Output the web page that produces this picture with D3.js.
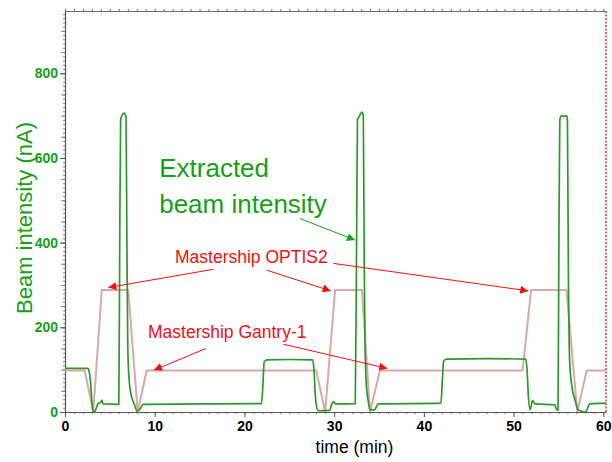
<!DOCTYPE html>
<html>
<head>
<meta charset="utf-8">
<script src="https://cdn.jsdelivr.net/npm/d3@7"></script>
<style>
  html, body { margin: 0; padding: 0; background: #ffffff; }
  svg { display: block; font-family: "Liberation Sans", Arial, sans-serif; }
</style>
</head>
<body>
<svg id="chart" width="612" height="462"></svg>
<script>
// ---- data ----
const beamTime = [0, 2.55, 2.7, 2.85, 3.0, 3.15, 3.35, 3.5, 3.7, 3.95, 4.1, 4.25, 6.0,
  6.1, 6.2, 6.35, 6.58, 6.8, 6.9, 7.0, 7.15, 7.4, 7.7, 8.05, 8.4, 8.7, 15, 21.9,
  22.05, 22.2, 22.5, 25, 27.6, 27.75, 27.9, 28.1, 28.3, 29.5, 29.75, 29.9, 30.2, 32.35,
  32.5, 32.6, 32.8, 33.1, 33.25, 33.35, 33.45, 33.6, 33.8, 34.0, 34.5, 34.9, 41.9,
  42.05, 42.2, 42.5, 47, 51.35, 51.5, 51.65, 51.85, 52.1, 52.4, 54.6, 54.8, 54.95,
  55.05, 55.15, 55.35, 55.6, 55.9, 56.0, 56.1, 56.25, 56.5, 56.85, 57.2, 58.0, 58.5, 60.3];
const beamValue = [103, 103, 95, 70, 25, 0, 2, 10, 20, 22, 28, 19, 18,
  400, 690, 700, 706, 697, 400, 150, 75, 38, 20, 2, 8, 18, 19, 20,
  60, 118, 123, 124, 123, 100, 40, 8, 3, 4, 20, 24, 19, 20,
  400, 690, 698, 708, 700, 350, 150, 60, 25, 5, 5, 19, 21,
  70, 120, 125, 126, 125, 100, 36, 5, 27, 19, 17, 5, 5,
  400, 690, 700, 698, 700, 690, 350, 120, 60, 28, 5, 0, 19, 21];

const masterTime = [0, 2.2, 3.15, 4.1, 7.05, 8.1, 9.1, 28.0, 29.0, 30.1, 33.1, 34.0, 35.1, 51.0, 51.95, 55.9, 57.1, 58.15, 60.3];
const masterValue = [98, 98, 0, 288, 288, 0, 98, 98, 0, 288, 288, 0, 98, 98, 288, 288, 0, 98, 98];

const xTicks = [0, 10, 20, 30, 40, 50, 60];
const yTicks = [0, 200, 400, 600, 800];

const xLabel = "time (min)";
const yLabel = "Beam intensity (nA)";

// annotation texts (data coordinates)
const labelTexts = ["Extracted", "beam intensity", "Mastership OPTIS2", "Mastership Gantry-1"];
const labelT = [10.5, 10.5, 12.26, 9.25];
const labelV = [556, 469, 351, 175];
const labelKind = ["beam", "beam", "master", "master"];

// arrows: from (t0,v0) to (t1,v1)
const arrowT0 = [26.19, 16.53, 22.48, 29.9, 15.72, 24.33];
const arrowV0 = [457, 337, 335, 351, 150, 160];
const arrowT1 = [32.32, 4.83, 29.61, 51.64, 9.92, 35.92];
const arrowV1 = [406, 294, 286, 286, 99, 103];
const arrowKind = ["beam", "master", "master", "master", "master", "master"];

// ---- drawing ----
const svg = d3.select("#chart");
const x = d3.scaleLinear().domain([0, 60.3]).range([65, 606]);
const y = d3.scaleLinear().domain([0, 947]).range([412, 11]);

const green = "#2b9a2b";
const textGreen = "#16a016";
const red = "#f01010";
const pink = "#d9a9a9";
const axisGray = "#707070";

svg.append("rect").attr("width", 612).attr("height", 462).attr("fill", "#ffffff");

// defs for arrows
const defs = svg.append("defs");
[["beam", textGreen], ["master", red]].forEach(([k, c]) => {
  defs.append("marker")
    .attr("id", "arrow-" + k)
    .attr("markerUnits", "userSpaceOnUse")
    .attr("viewBox", "0 0 10 10")
    .attr("refX", 10).attr("refY", 5)
    .attr("markerWidth", 11).attr("markerHeight", 8)
    .attr("orient", "auto")
    .append("path").attr("d", "M0,0 L10,5 L0,10 Z").attr("fill", c);
});

// top axis
const gTop = svg.append("g").attr("transform", `translate(0,${y.range()[1]})`);
gTop.call(d3.axisTop(x).tickValues(d3.range(0, 61, 1)).tickSize(2).tickSizeOuter(0).tickFormat(""));
gTop.select(".domain").attr("stroke", axisGray);
gTop.selectAll(".tick line").attr("stroke", axisGray);
const gTop2 = svg.append("g").attr("transform", `translate(0,${y.range()[1]})`);
gTop2.call(d3.axisBottom(x).tickValues(d3.range(0, 61, 1)).tickSize(1).tickSizeOuter(0).tickFormat(""));
gTop2.select(".domain").remove();
gTop2.selectAll(".tick line").attr("stroke", axisGray);

// right border (red dotted)
svg.append("line")
  .attr("x1", x.range()[1]).attr("x2", x.range()[1])
  .attr("y1", y.range()[1]).attr("y2", y.range()[0])
  .attr("stroke", "#e04040").attr("stroke-width", 1.6).attr("stroke-dasharray", "2,1.5");

// left axis: minor
const gLm = svg.append("g").attr("transform", `translate(${x.range()[0]},0)`);
gLm.call(d3.axisLeft(y).tickValues(d3.range(0, 941, 10)).tickSize(2).tickSizeOuter(0).tickFormat(""));
gLm.select(".domain").remove();
gLm.selectAll(".tick line").attr("stroke", "#888");
const gLm2 = svg.append("g").attr("transform", `translate(${x.range()[0]},0)`);
gLm2.call(d3.axisLeft(y).tickValues(d3.range(0, 941, 50)).tickSize(4).tickSizeOuter(0).tickFormat(""));
gLm2.select(".domain").remove();
gLm2.selectAll(".tick line").attr("stroke", "#888");

// left axis: major
const gL = svg.append("g").attr("transform", `translate(${x.range()[0]},0)`);
gL.call(d3.axisLeft(y).tickValues(yTicks).tickSize(5).tickPadding(2).tickSizeOuter(0));
gL.select(".domain").attr("stroke", "#555").attr("stroke-width", 1.2);
gL.selectAll(".tick line").attr("stroke", "#555");
gL.selectAll(".tick text").attr("fill", textGreen).attr("font-size", 14).attr("font-weight", "bold")
  .attr("font-family", "Liberation Sans, Arial, sans-serif");

// bottom axis: minor
const gBm = svg.append("g").attr("transform", `translate(0,${y.range()[0]})`);
gBm.call(d3.axisBottom(x).tickValues(d3.range(0, 61, 1)).tickSize(2).tickSizeOuter(0).tickFormat(""));
gBm.select(".domain").remove();
gBm.selectAll(".tick line").attr("stroke", "#777");

// bottom axis: major
const gB = svg.append("g").attr("transform", `translate(0,${y.range()[0]})`);
gB.call(d3.axisBottom(x).tickValues(xTicks).tickSize(5).tickPadding(4).tickSizeOuter(0));
gB.select(".domain").attr("stroke", "#555").attr("stroke-width", 1.2);
gB.selectAll(".tick line").attr("stroke", "#555");
gB.selectAll(".tick text").attr("fill", "#000").attr("font-size", 14).attr("font-weight", "bold")
  .attr("font-family", "Liberation Sans, Arial, sans-serif");

// lines
const masterData = masterTime.map((t, i) => [t, masterValue[i]]);
const beamData = beamTime.map((t, i) => [t, beamValue[i]]);

svg.append("path")
  .datum(masterData)
  .attr("fill", "none").attr("stroke", pink).attr("stroke-width", 2)
  .attr("d", d3.line().x(d => x(d[0])).y(d => y(d[1])));

svg.append("path")
  .datum(beamData)
  .attr("fill", "none").attr("stroke", green).attr("stroke-width", 1.7)
  .attr("d", d3.line().curve(d3.curveMonotoneX).x(d => x(d[0])).y(d => y(d[1])));

// axis titles
svg.append("text")
  .attr("x", (x.range()[0] + x.range()[1]) / 2 + 19)
  .attr("y", 453)
  .attr("text-anchor", "middle")
  .attr("font-size", 17.5).attr("fill", "#000")
  .text(xLabel);

svg.append("text")
  .attr("transform", `translate(32,218) rotate(-90)`)
  .attr("text-anchor", "middle")
  .attr("font-size", 22).attr("fill", textGreen)
  .text(yLabel);

// annotation labels
labelTexts.forEach((txt, i) => {
  const isBeam = labelKind[i] === "beam";
  svg.append("text")
    .attr("x", x(labelT[i])).attr("y", y(labelV[i]))
    .attr("font-size", isBeam ? 26 : 17.5)
    .attr("fill", isBeam ? textGreen : red)
    .text(txt);
});

// arrows
arrowT0.forEach((t0, i) => {
  const k = arrowKind[i];
  svg.append("line")
    .attr("x1", x(t0)).attr("y1", y(arrowV0[i]))
    .attr("x2", x(arrowT1[i])).attr("y2", y(arrowV1[i]))
    .attr("stroke", k === "beam" ? textGreen : red)
    .attr("stroke-width", 1)
    .attr("marker-end", `url(#arrow-${k})`);
});
</script>
</body>
</html>
